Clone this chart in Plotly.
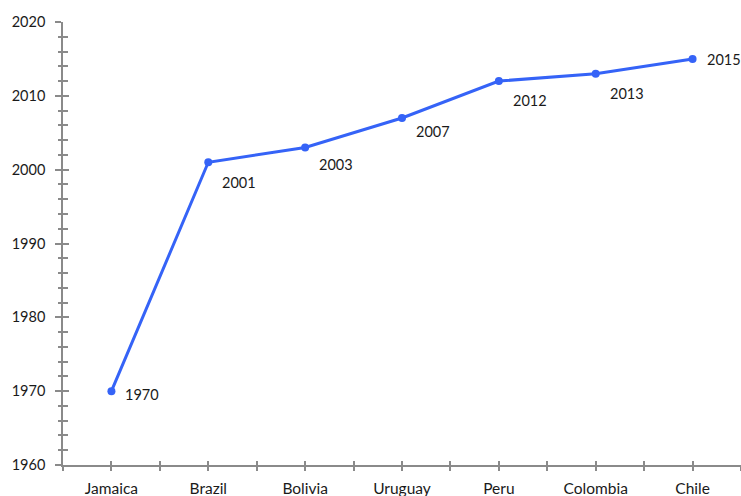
import plotly.graph_objects as go

# Country order along the x axis and the year shown for each
countries = ["Jamaica", "Brazil", "Bolivia", "Uruguay", "Peru", "Colombia", "Chile"]
years = [1970, 2001, 2003, 2007, 2012, 2013, 2015]

# y-axis ticks
y_ticks = [1960, 1970, 1980, 1990, 2000, 2010, 2020]

# vertical nudge (px, downward) of each value label
label_drop = [3, 20, 17, 14, 19, 20, 1]

LINE_BLUE = "#3563f7"
AXIS_GREY = "#8a8a8a"
FAMILY = "Lato, Carlito, sans-serif"
INK = "#1a1a1a"
NUM_FONT = dict(family=FAMILY, size=14.5, color=INK)
CAT_FONT = dict(family=FAMILY, size=15.5, color=INK)

xpos = list(range(len(countries)))
xr = [-0.5, len(countries) - 0.5]
yr = [y_ticks[0], y_ticks[-1]]
half_steps = [i + 0.5 for i in range(-1, len(countries))]

fig = go.Figure()
fig.add_trace(go.Scatter(
    x=xpos, y=years, mode="lines+markers",
    line=dict(color=LINE_BLUE, width=3),
    marker=dict(color=LINE_BLUE, size=8),
    hoverinfo="skip", showlegend=False, cliponaxis=False,
))
# invisible trace so the overlay axes are drawn
fig.add_trace(go.Scatter(x=xpos, y=years, xaxis="x2", yaxis="y2",
                         mode="markers", marker=dict(opacity=0),
                         hoverinfo="skip", showlegend=False))

for xi, yv, dy in zip(xpos, years, label_drop):
    fig.add_annotation(x=xi, y=yv, text=str(yv), showarrow=False,
                       xanchor="left", yanchor="middle",
                       xshift=12, yshift=-dy, font=NUM_FONT)

common_x = dict(range=xr, showgrid=False, zeroline=False,
                showline=True, linecolor=AXIS_GREY, linewidth=1.5,
                tickcolor=AXIS_GREY, tickwidth=1.5, ticklen=4,
                tickvals=xpos, fixedrange=True)
common_y = dict(range=yr, showgrid=False, zeroline=False,
                showline=True, linecolor=AXIS_GREY, linewidth=1.5,
                tickcolor=AXIS_GREY, tickwidth=1.5,
                tickvals=y_ticks, fixedrange=True)

fig.update_layout(
    width=741, height=496,
    margin=dict(l=63, r=0, t=22, b=31),
    plot_bgcolor="white", paper_bgcolor="white",
    font=NUM_FONT,
    xaxis=dict(**common_x, ticks="outside", ticktext=countries,
               ticklabelstandoff=5, tickfont=CAT_FONT,
               minor=dict(tickvals=half_steps, ticks="outside", ticklen=4,
                          tickcolor=AXIS_GREY, tickwidth=1.5)),
    xaxis2=dict(**common_x, ticks="inside", overlaying="x", anchor="y",
                showticklabels=False,
                minor=dict(tickvals=half_steps, ticks="inside", ticklen=4,
                           tickcolor=AXIS_GREY, tickwidth=1.5)),
    yaxis=dict(**common_y, ticks="outside", ticklen=6,
               ticklabelstandoff=7, tickfont=NUM_FONT,
               minor=dict(dtick=2, tick0=1960, ticks="outside", ticklen=3,
                          tickcolor=AXIS_GREY, tickwidth=1.5)),
    yaxis2=dict(**common_y, ticks="inside", ticklen=6, overlaying="y",
                anchor="x", side="left", showticklabels=False,
                minor=dict(dtick=2, tick0=1960, ticks="inside", ticklen=5,
                           tickcolor=AXIS_GREY, tickwidth=1.5)),
)

fig.write_html("out.html", config={"displayModeBar": False})
